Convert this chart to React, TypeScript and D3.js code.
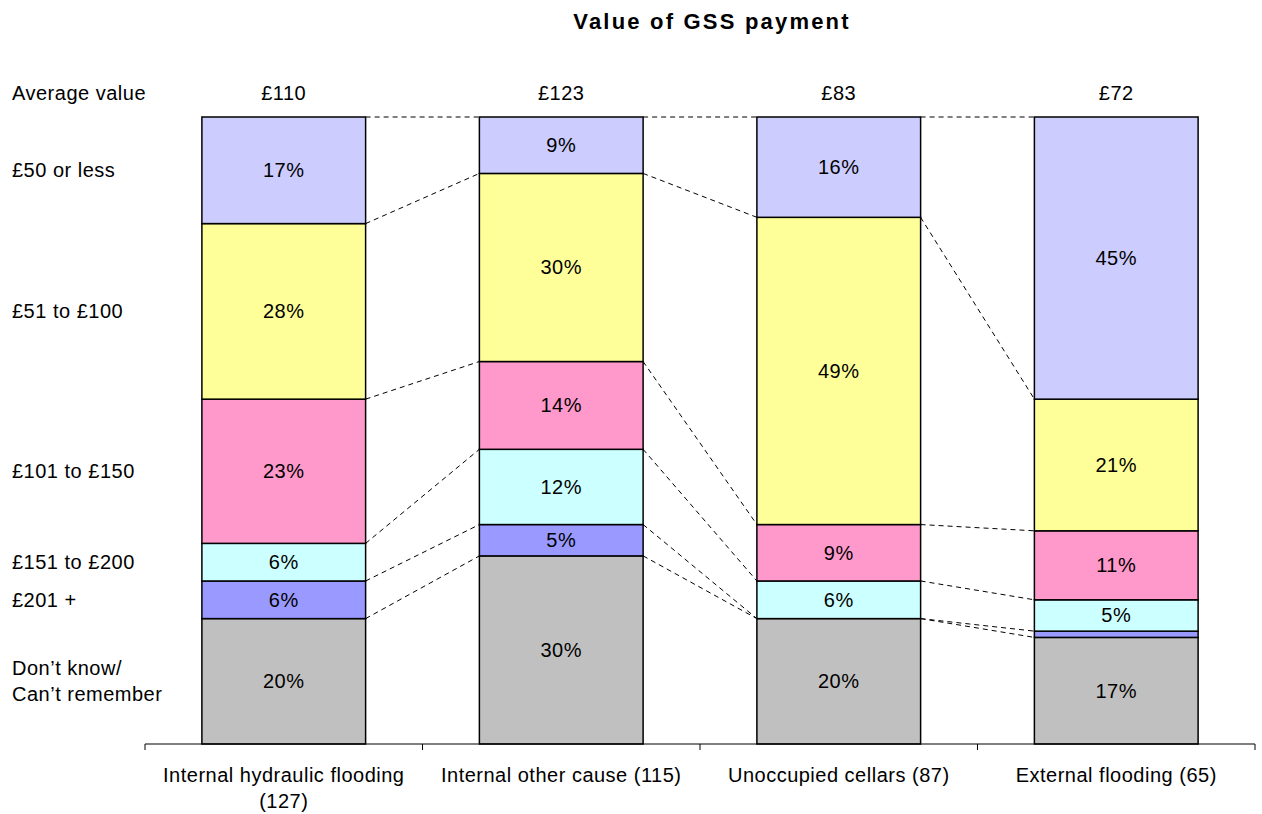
import { useEffect, useRef } from "react";
import * as d3 from "d3";

const width = 1262,
  height = 814;
const margin = { top: 117, right: 7, bottom: 70, left: 145 };

const categories = [
  "Internal hydraulic flooding|(127)",
  "Internal other cause (115)",
  "Unoccupied cellars (87)",
  "External flooding (65)",
];
const averages = ["£110", "£123", "£83", "£72"];

// stacked bottom -> top
const seriesNames = [
  "Don’t know/|Can’t remember",
  "£201 +",
  "£151 to £200",
  "£101 to £150",
  "£51 to £100",
  "£50 or less",
];
const dontKnow = [20, 30, 20, 17];
const over200 = [6, 5, 0, 1];
const from151 = [6, 12, 6, 5];
const from101 = [23, 14, 9, 11];
const from51 = [28, 30, 49, 21];
const under50 = [17, 9, 16, 45];
const seriesValues = [dontKnow, over200, from151, from101, from51, under50];
const colors = ["#C0C0C0", "#9999FF", "#CCFFFF", "#FF99CC", "#FFFF99", "#CCCCFF"];

const font = "'Liberation Sans', Arial, sans-serif";

// common text styling
const txt = (sel: any) =>
  sel
    .style("font-family", font)
    .style("font-size", "20px")
    .style("letter-spacing", "0.5px")
    .attr("fill", "#000");

export default function App() {
  const ref = useRef<SVGSVGElement | null>(null);

  useEffect(() => {
    const svg = d3.select(ref.current);
    svg.selectAll("*").remove();

    const x = d3
      .scaleBand()
      .domain(categories)
      .range([margin.left, width - margin.right]);
    const y = d3
      .scaleLinear()
      .domain([0, 100])
      .range([height - margin.bottom, margin.top]);
    const barW = x.bandwidth() * 0.59;
    const barX = (c: string) => (x(c) as number) + (x.bandwidth() - barW) / 2;

    const rows = categories.map((c, i) => {
      const r: any = { cat: c };
      seriesNames.forEach((s, j) => (r[s] = seriesValues[j][i]));
      return r;
    });
    const stacked = d3.stack().keys(seriesNames)(rows);

    // title
    svg
      .append("text")
      .attr("x", 712)
      .attr("y", 29)
      .attr("text-anchor", "middle")
      .style("font-family", font)
      .style("font-size", "22px")
      .style("font-weight", "bold")
      .style("letter-spacing", "2.2px")
      .text("Value of GSS payment");

    // dashed series lines
    const lines = svg.append("g");
    stacked.forEach((layer) => {
      for (let i = 0; i < categories.length - 1; i++) {
        const a = categories[i],
          b = categories[i + 1];
        lines
          .append("line")
          .attr("x1", barX(a) + barW)
          .attr("x2", barX(b))
          .attr("y1", y(layer[i][1]))
          .attr("y2", y(layer[i + 1][1]))
          .attr("stroke", "#000")
          .attr("stroke-width", 1)
          .attr("stroke-dasharray", "5,4");
      }
    });

    // bars
    stacked.forEach((layer, j) => {
      const g = svg.append("g");
      layer.forEach((d, i) => {
        const c = categories[i];
        g.append("rect")
          .attr("x", barX(c))
          .attr("y", y(d[1]))
          .attr("width", barW)
          .attr("height", y(d[0]) - y(d[1]))
          .attr("fill", colors[j])
          .attr("stroke", "#000")
          .attr("stroke-width", 1.5);
        const v = d[1] - d[0];
        if (v >= 2) {
          g.append("text")
            .attr("x", barX(c) + barW / 2)
            .attr("y", (y(d[0]) + y(d[1])) / 2)
            .attr("dy", "0.35em")
            .attr("text-anchor", "middle")
            .call(txt)
            .text(v + "%");
        }
      });
    });

    // left labels at midpoint of first bar's segments
    stacked.forEach((layer) => {
      const d = layer[0];
      const mid = (y(d[0]) + y(d[1])) / 2;
      const parts = layer.key.split("|");
      const t = svg
        .append("text")
        .attr("x", 12)
        .attr("y", mid - ((parts.length - 1) * 26) / 2)
        .call(txt);
      parts.forEach((p, k) =>
        t
          .append("tspan")
          .attr("x", 12)
          .attr("dy", k === 0 ? "0.35em" : "26px")
          .text(p)
      );
    });

    // average values
    svg.append("text").attr("x", 12).attr("y", 100).call(txt).text("Average value");
    categories.forEach((c, i) => {
      svg
        .append("text")
        .attr("x", barX(c) + barW / 2)
        .attr("y", 100)
        .attr("text-anchor", "middle")
        .call(txt)
        .text(averages[i]);
    });

    // x axis
    const axis = svg
      .append("g")
      .attr("transform", `translate(0,${height - margin.bottom})`)
      .call(d3.axisBottom(x).tickSize(0).tickFormat(() => ""));
    axis.select(".domain").attr("stroke", "#000").attr("d", `M${margin.left},0H${width - margin.right}`);
    const edges = categories.map((c) => x(c) as number).concat([width - margin.right]);
    edges.forEach((e) =>
      axis.append("line").attr("x1", e).attr("x2", e).attr("y1", 0).attr("y2", 6).attr("stroke", "#000")
    );
    categories.forEach((c) => {
      const cx = (x(c) as number) + x.bandwidth() / 2;
      const t = axis
        .append("text")
        .attr("x", cx)
        .attr("y", 38)
        .attr("text-anchor", "middle")
        .call(txt);
      c.split("|").forEach((p, k) =>
        t
          .append("tspan")
          .attr("x", cx)
          .attr("dy", k === 0 ? 0 : 26)
          .text(p)
      );
    });
  }, []);

  return (
    <svg
      ref={ref}
      width={width}
      height={height}
      style={{ position: "absolute", left: 0, top: 0, background: "#fff" }}
    />
  );
}
